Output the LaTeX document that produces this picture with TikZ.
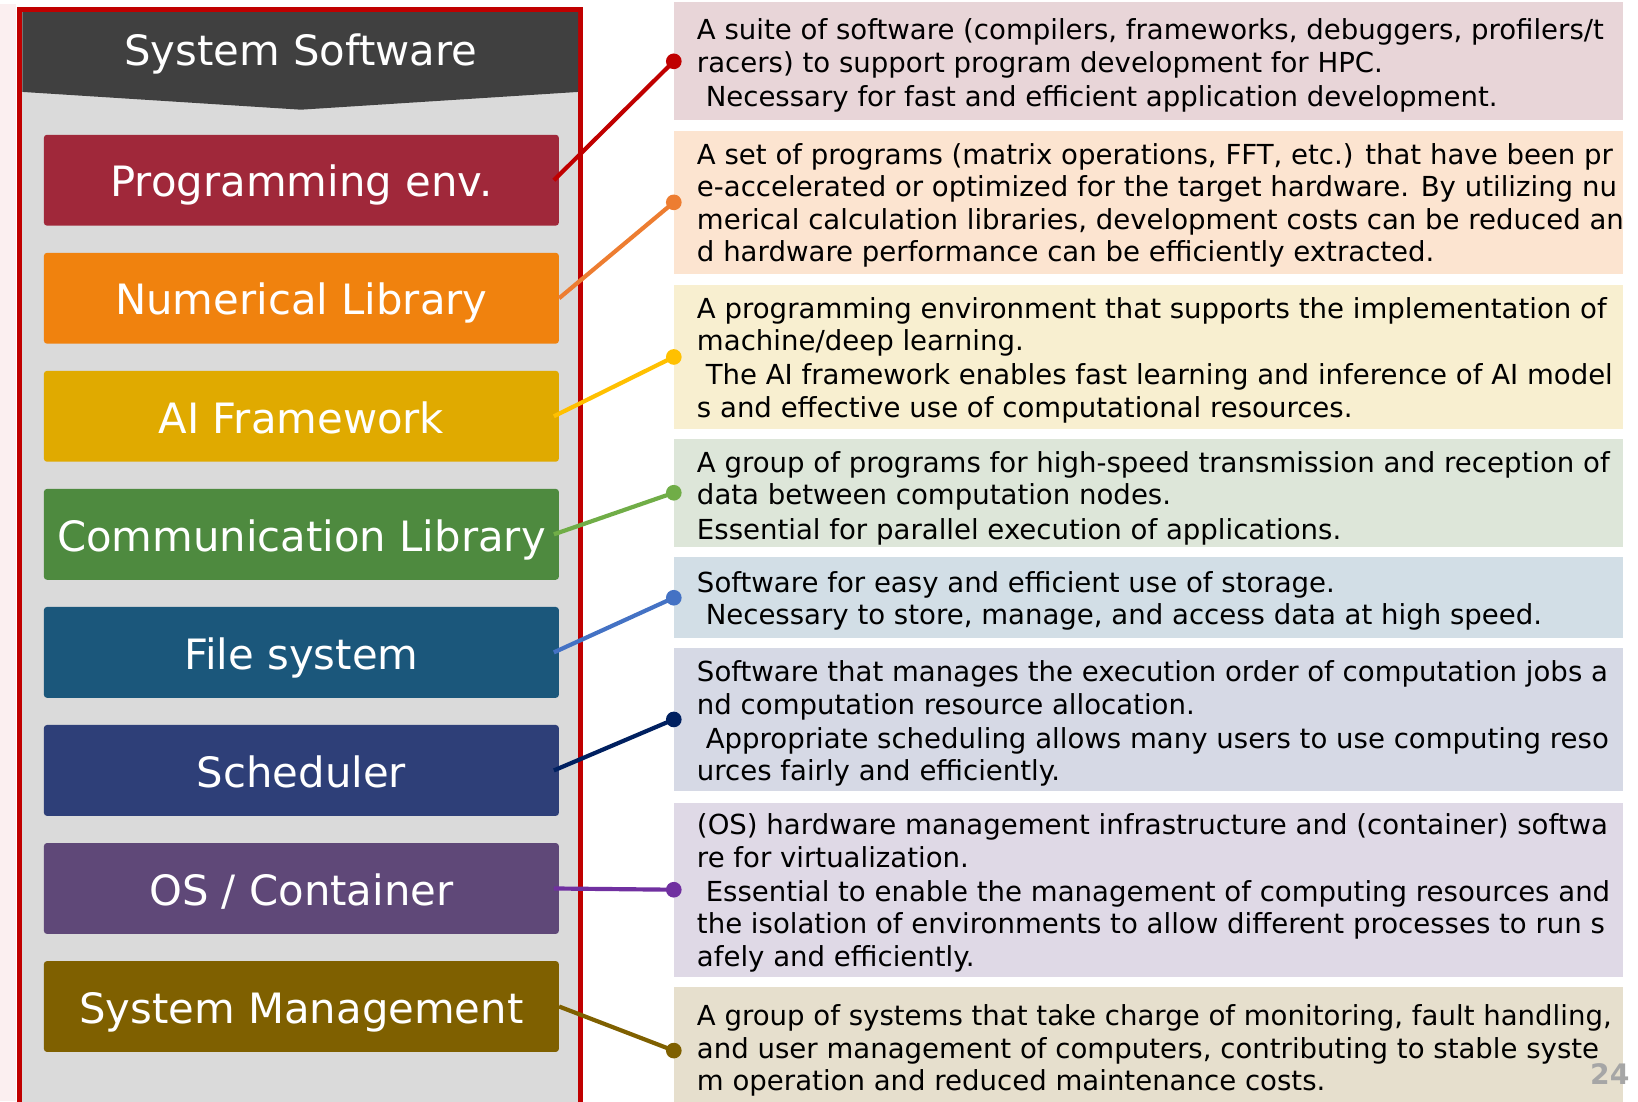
\documentclass[tikz,border=0pt]{standalone}
\usepackage{fontspec}
\setmainfont{DejaVu Sans}
\usepackage{tikz}
\usetikzlibrary{positioning}

\definecolor{panelgray}{HTML}{DADADA}
\definecolor{headgray}{HTML}{404040}
\definecolor{framered}{HTML}{C00000}
\definecolor{edgepink}{HTML}{FBEFF0}
\definecolor{progcol}{HTML}{A0283A}
\definecolor{numcol}{HTML}{F0820E}
\definecolor{aicol}{HTML}{E0AA00}
\definecolor{commcol}{HTML}{4E8A3F}
\definecolor{filecol}{HTML}{1B577B}
\definecolor{schedcol}{HTML}{2E3F78}
\definecolor{oscol}{HTML}{5F4878}
\definecolor{mgmtcol}{HTML}{7F6000}
\definecolor{progln}{HTML}{C00000}
\definecolor{numln}{HTML}{ED7D31}
\definecolor{ailn}{HTML}{FFC000}
\definecolor{commln}{HTML}{70AD47}
\definecolor{fileln}{HTML}{4472C4}
\definecolor{schedln}{HTML}{002060}
\definecolor{osln}{HTML}{7030A0}
\definecolor{mgmtln}{HTML}{7F6000}
\definecolor{progbg}{HTML}{E8D5D8}
\definecolor{numbg}{HTML}{FCE4D0}
\definecolor{aibg}{HTML}{F8EFD0}
\definecolor{commbg}{HTML}{DDE6D9}
\definecolor{filebg}{HTML}{D2DEE6}
\definecolor{schedbg}{HTML}{D6D9E5}
\definecolor{osbg}{HTML}{DFD9E6}
\definecolor{mgmtbg}{HTML}{E6DFCD}

\tikzstyle{layer} = [rectangle, rounded corners=3pt, minimum width=493pt, minimum height=87pt, text height=32pt, text depth=0pt, text centered, text=white, font=\fontsize{40}{48}\selectfont]
\tikzstyle{descbox} = [rectangle, minimum width=908pt, anchor=north west, inner sep=0pt]
\tikzstyle{desc} = [anchor=west, align=left, inner sep=0pt, font=\fontsize{26.4}{31}\selectfont]
\tikzstyle{link} = [line width=4pt]
\tikzstyle{dot} = [circle, inner sep=0pt, minimum size=15pt]

\begin{document}
\begin{tikzpicture}[x=1pt, y=1pt, node distance=113pt]
\useasboundingbox (0,0) rectangle (1568,-1054);
\clip (0,0) rectangle (1568,-1054);

% left panel
\fill[edgepink] (0,-4) rectangle (15,-1054);
\filldraw[fill=panelgray, draw=framered, line width=5pt] (19,-9) rectangle (556,-1070);
\fill[headgray] (21.5,-11.5) -- (553.5,-11.5) -- (553.5,-88) -- (288,-105) -- (21.5,-88) -- cycle;
\node (title) [text=white, font=\fontsize{40}{48}\selectfont] at (288,-52) {System Software};

\node (prog) [layer, fill=progcol] at (288.5,-172.5) {Programming env.};
\node (numlib) [layer, fill=numcol, below of=prog] {Numerical Library};
\node (aifw) [layer, fill=aicol, below of=numlib] {AI Framework};
\node (commlib) [layer, fill=commcol, below of=aifw] {Communication Library};
\node (filesys) [layer, fill=filecol, below of=commlib] {File system};
\node (sched) [layer, fill=schedcol, below of=filesys] {Scheduler};
\node (oscont) [layer, fill=oscol, below of=sched] {OS / Container};
\node (sysmgmt) [layer, fill=mgmtcol, below of=oscont] {System Management};

% descriptions
\node (dprog) [descbox, fill=progbg, minimum height=113pt] at (645,-2) {};
\node (dnum) [descbox, fill=numbg, minimum height=137pt] at (645,-125) {};
\node (dai) [descbox, fill=aibg, minimum height=137pt] at (645,-273) {};
\node (dcomm) [descbox, fill=commbg, minimum height=103pt] at (645,-420) {};
\node (dfile) [descbox, fill=filebg, minimum height=78pt] at (645,-533) {};
\node (dsched) [descbox, fill=schedbg, minimum height=137pt] at (645,-620) {};
\node (dos) [descbox, fill=osbg, minimum height=167pt] at (645,-768) {};
\node (dmgmt) [descbox, fill=mgmtbg, minimum height=117pt] at (645,-945) {};

\node (tprog) [desc] at ([xshift=22pt, yshift=-4pt]dprog.west) {A suite of software (compilers, frameworks, debuggers, profilers/t\\racers) to support program development for HPC.\\[2pt]\ Necessary for fast and efficient application development.};
\node (tnum) [desc] at ([xshift=22pt, yshift=-3pt]dnum.west) {A set of programs (matrix operations, FFT, etc.) that have been pr\\e-accelerated or optimized for the target hardware. By utilizing nu\\merical calculation libraries, development costs can be reduced an\\d hardware performance can be efficiently extracted.};
\node (tai) [desc] at ([xshift=22pt, yshift=-3pt]dai.west) {A programming environment that supports the implementation of\\machine/deep learning.\\[2pt]\ The AI framework enables fast learning and inference of AI model\\s and effective use of computational resources.};
\node (tcomm) [desc] at ([xshift=22pt, yshift=-5pt]dcomm.west) {A group of programs for high-speed transmission and reception of\\data between computation nodes.\\[2pt]Essential for parallel execution of applications.};
\node (tfile) [desc] at ([xshift=22pt, yshift=-3pt]dfile.west) {Software for easy and efficient use of storage.\\\ Necessary to store, manage, and access data at high speed.};
\node (tsched) [desc] at ([xshift=22pt, yshift=-4pt]dsched.west) {Software that manages the execution order of computation jobs a\\nd computation resource allocation.\\[2pt]\ Appropriate scheduling allows many users to use computing reso\\urces fairly and efficiently.};
\node (tos) [desc] at ([xshift=22pt, yshift=-3pt]dos.west) {(OS) hardware management infrastructure and (container) softwa\\re for virtualization.\\[2pt]\ Essential to enable the management of computing resources and\\the isolation of environments to allow different processes to run s\\afely and efficiently.};
\node (tmgmt) [desc] at ([xshift=22pt, yshift=-2pt]dmgmt.west) {A group of systems that take charge of monitoring, fault handling,\\and user management of computers, contributing to stable syste\\m operation and reduced maintenance costs.};

% connectors
\draw [link, progln] ([xshift=-5pt]prog.east) -- (dprog.west) node[dot, fill=progln] {};
\draw [link, numln] ([xshift=0pt]numlib.east) -- (dnum.west) node[dot, fill=numln] {};
\draw [link, ailn] ([xshift=-5pt]aifw.east) -- (dai.west) node[dot, fill=ailn] {};
\draw [link, commln] ([xshift=-5pt]commlib.east) -- (dcomm.west) node[dot, fill=commln] {};
\draw [link, fileln] ([xshift=-5pt]filesys.east) -- (dfile.west) node[dot, fill=fileln] {};
\draw [link, schedln] ([xshift=-5pt]sched.east) -- (dsched.west) node[dot, fill=schedln] {};
\draw [link, osln] ([xshift=-5pt]oscont.east) -- (dos.west) node[dot, fill=osln] {};
\draw [link, mgmtln] ([xshift=0pt]sysmgmt.east) -- ([yshift=-2pt]dmgmt.west) node[dot, fill=mgmtln] {};

% page number
\node (pageno) [text=black!35, font=\fontsize{27}{30}\selectfont\bfseries] at (1541,-1028) {24};
\end{tikzpicture}
\end{document}
